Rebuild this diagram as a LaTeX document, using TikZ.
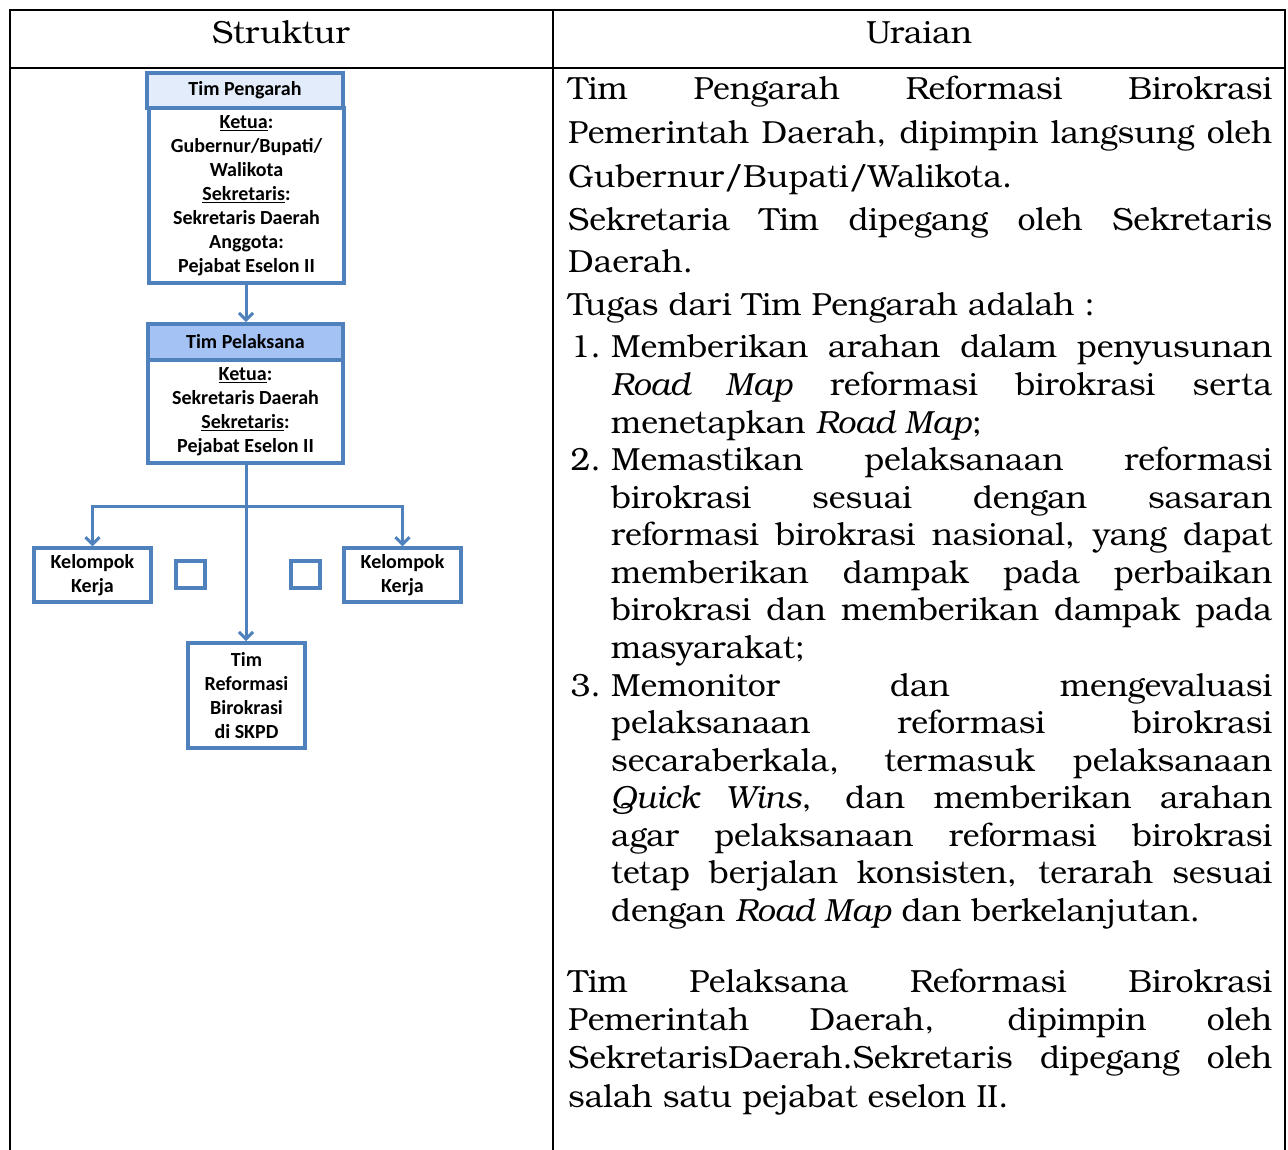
\documentclass[tikz,border=0pt]{standalone}
\usepackage{fontspec}
\setmainfont{texgyrebonum-regular.otf}[ItalicFont=texgyrebonum-italic.otf,BoldFont=texgyrebonum-bold.otf]
\newfontfamily\boxfont{Carlito}
\usetikzlibrary{arrows.meta,shadows}
\definecolor{boxblue}{HTML}{4F81BD}
\definecolor{lightfill}{HTML}{E3ECFB}
\definecolor{midfill}{HTML}{A4C2F4}
\begin{document}
\begin{tikzpicture}[x=1pt,y=-1pt,
  tline/.style={anchor=base west, inner sep=0pt, font=\fontsize{32}{32}\selectfont},
  numline/.style={anchor=base east, inner sep=0pt, font=\fontsize{32}{32}\selectfont},
  hdr/.style={anchor=base, inner sep=0pt, font=\fontsize{32}{32}\selectfont},
  orgbox/.style={draw=boxblue, line width=3.5pt, fill=white, inner sep=0pt, align=center,
    font=\boxfont\bfseries\fontsize{20}{24}\selectfont,
    drop shadow={shadow xshift=1.5pt, shadow yshift=-1.5pt, opacity=0.35, fill=black!60}},
  conn/.style={draw=boxblue, line width=3pt, -{Straight Barb[length=7pt,width=14pt]}},
  tbl/.style={draw=black, line width=2pt}
]
\useasboundingbox (0,0) rectangle (1288,1149);
% table
\draw[tbl] (10,1152) -- (10,10) -- (1285,10) -- (1285,1152);
\draw[tbl] (10,68) -- (1285,68);
\draw[tbl] (553,10) -- (553,1152);
\node[hdr] (h1) at (281,43) {Struktur};
\node[hdr] (h2) at (919,43) {Uraian};

% org chart
\coordinate (split) at (246,506);
\draw[conn] (246,283) -- (246,322);
\draw[conn] (246,463) -- (246,641);
\node[orgbox, fill=lightfill, minimum width=196pt, minimum height=35pt] (ph) at (245,90.5) {Tim Pengarah};
\node[orgbox, minimum width=195pt, minimum height=175pt] (pb) at (246.5,195.5)
  {\underline{Ketua}:\\Gubernur/Bupati/\\Walikota\\\underline{Sekretaris}:\\Sekretaris Daerah\\Anggota:\\Pejabat Eselon II};
\node[orgbox, fill=midfill, minimum width=195pt, minimum height=36pt] (lh) at (245.5,342) {Tim Pelaksana};
\node[orgbox, minimum width=195pt, minimum height=103pt] (lb) at (245.5,411.5)
  {\underline{Ketua}:\\Sekretaris Daerah\\\underline{Sekretaris}:\\Pejabat Eselon II};
\node[orgbox, minimum width=117pt, minimum height=54pt] (kl) at (92.5,575) {Kelompok\\Kerja};
\node[orgbox, minimum width=117pt, minimum height=54pt] (kr) at (402.5,575) {Kelompok\\Kerja};
\node[orgbox, minimum width=29pt, minimum height=27pt] (sl) at (190.5,574.5) {};
\node[orgbox, minimum width=29pt, minimum height=27pt] (sr) at (305.5,574.5) {};
\node[orgbox, minimum width=117pt, minimum height=105pt] (tr) at (246.5,695.5) {Tim\\Reformasi\\Birokrasi\\di SKPD};
\draw[conn] (split) -| (kl.north);
\draw[conn] (split) -| (kr.north);

% right column text
\node[tline] (r1) at (568,99) {\makebox[704pt][s]{Tim Pengarah Reformasi Birokrasi}};
\node[tline] (r2) at (568,143) {\makebox[704pt][s]{Pemerintah Daerah, dipimpin langsung oleh}};
\node[tline] (r3) at (568,187) {Gubernur/Bupati/Walikota.};
\node[tline] (r4) at (568,230) {\makebox[704pt][s]{Sekretaria Tim dipegang oleh Sekretaris}};
\node[tline] (r5) at (568,272) {Daerah.};
\node[tline] (r6) at (568,315) {Tugas dari Tim Pengarah adalah :};
\node[numline] (n1) at (601,357) {1.};
\node[tline] (r7) at (611,357) {\makebox[661pt][s]{Memberikan arahan dalam penyusunan}};
\node[tline] (r8) at (611,395) {\makebox[661pt][s]{\emph{Road Map} reformasi birokrasi serta}};
\node[tline] (r9) at (611,433) {menetapkan \emph{Road Map};};
\node[numline] (n2) at (601,470) {2.};
\node[tline] (r10) at (611,470) {\makebox[661pt][s]{Memastikan pelaksanaan reformasi}};
\node[tline] (r11) at (611,508) {\makebox[661pt][s]{birokrasi sesuai dengan sasaran}};
\node[tline] (r12) at (611,545) {\makebox[661pt][s]{reformasi birokrasi nasional, yang dapat}};
\node[tline] (r13) at (611,583) {\makebox[661pt][s]{memberikan dampak pada perbaikan}};
\node[tline] (r14) at (611,620) {\makebox[661pt][s]{birokrasi dan memberikan dampak pada}};
\node[tline] (r15) at (611,658) {masyarakat;};
\node[numline] (n3) at (601,696) {3.};
\node[tline] (r16) at (611,696) {\makebox[661pt][s]{Memonitor dan mengevaluasi}};
\node[tline] (r17) at (611,733) {\makebox[661pt][s]{pelaksanaan reformasi birokrasi}};
\node[tline] (r18) at (611,771) {\makebox[661pt][s]{secaraberkala, termasuk pelaksanaan}};
\node[tline] (r19) at (611,808) {\makebox[661pt][s]{\emph{Quick Wins}, dan memberikan arahan}};
\node[tline] (r20) at (611,846) {\makebox[661pt][s]{agar pelaksanaan reformasi birokrasi}};
\node[tline] (r21) at (611,883) {\makebox[661pt][s]{tetap berjalan konsisten, terarah sesuai}};
\node[tline] (r22) at (611,921) {dengan \emph{Road Map} dan berkelanjutan.};
\node[tline] (r23) at (568,992) {\makebox[704pt][s]{Tim Pelaksana Reformasi Birokrasi}};
\node[tline] (r24) at (568,1030) {\makebox[704pt][s]{Pemerintah Daerah, dipimpin oleh}};
\node[tline] (r25) at (568,1068) {\makebox[704pt][s]{SekretarisDaerah.Sekretaris dipegang oleh}};
\node[tline] (r26) at (568,1107) {salah satu pejabat eselon II.};
\end{tikzpicture}
\end{document}
